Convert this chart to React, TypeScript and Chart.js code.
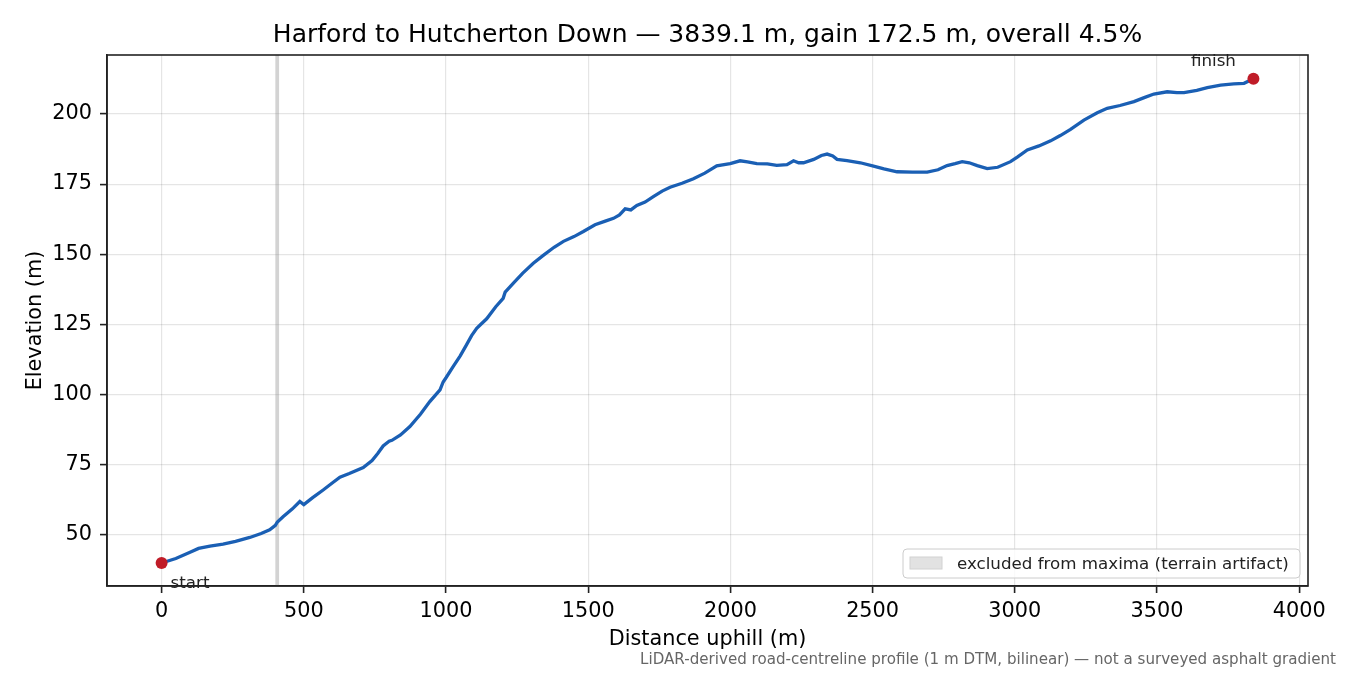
import React, { useEffect, useRef } from 'react';
import { Chart, registerables } from 'chart.js';
Chart.register(...registerables);

// profile (distance uphill in m, elevation in m)
const distance = [
  0, 50, 100, 130, 170, 216, 260, 310, 350, 380, 400, 407, 427, 460, 486, 500, 530, 568, 600, 627,
  660, 709, 740, 760, 779, 800, 810, 840, 873, 910, 943, 979, 990, 1000, 1025, 1050, 1072, 1090, 1108, 1120,
  1143, 1175, 1201, 1208, 1237, 1270, 1307, 1342, 1380, 1413, 1450, 1483, 1524, 1560, 1589, 1610, 1630, 1650, 1671, 1700,
  1729, 1760, 1788, 1830, 1870, 1910, 1952, 1999, 2034, 2060, 2093, 2130, 2163, 2199, 2222, 2240, 2257, 2293, 2320, 2340,
  2360, 2375, 2410, 2457, 2500, 2540, 2586, 2640, 2692, 2730, 2762, 2790, 2815, 2840, 2868, 2903, 2940, 2985, 3010, 3044,
  3085, 3126, 3160, 3196, 3243, 3290, 3325, 3370, 3419, 3455, 3489, 3536, 3570, 3595, 3640, 3677, 3724, 3770, 3806, 3839.1,
];
const elevation = [
  40.0, 41.6, 43.8, 45.2, 46.0, 46.7, 47.7, 49.1, 50.5, 51.8, 53.4, 54.6, 56.5, 59.3, 61.9, 60.8, 63.2, 66.0, 68.5, 70.6,
  71.9, 74.0, 76.5, 79.0, 81.7, 83.4, 83.7, 85.6, 88.6, 93.0, 97.5, 101.7, 104.5, 106.0, 110.0, 113.8, 117.7, 121.0, 123.6, 124.8,
  127.0, 131.3, 134.3, 136.5, 139.7, 143.3, 146.8, 149.6, 152.5, 154.6, 156.3, 158.1, 160.5, 161.8, 162.8, 164.0, 166.2, 165.8, 167.4, 168.6,
  170.5, 172.5, 173.9, 175.3, 176.9, 178.9, 181.5, 182.3, 183.3, 182.9, 182.3, 182.2, 181.7, 181.9, 183.3, 182.6, 182.6, 183.8, 185.2, 185.7,
  185.0, 183.8, 183.4, 182.6, 181.5, 180.4, 179.4, 179.3, 179.3, 180.1, 181.6, 182.3, 183.0, 182.6, 181.6, 180.5, 181.0, 183.0, 184.7, 187.2,
  188.6, 190.4, 192.3, 194.5, 197.8, 200.4, 202.0, 203.0, 204.4, 205.8, 207.1, 207.9, 207.6, 207.6, 208.4, 209.4, 210.3, 210.7, 210.9, 212.5,
];

const endpointLabels = ['start', 'finish'];
const excludedSpan = [400, 413];
const xTicks = [0, 500, 1000, 1500, 2000, 2500, 3000, 3500, 4000];
const yTicks = [50, 75, 100, 125, 150, 175, 200];

const title = 'Harford to Hutcherton Down — 3839.1 m, gain 172.5 m, overall 4.5%';
const xLabel = 'Distance uphill (m)';
const yLabel = 'Elevation (m)';
const legendLabel = 'excluded from maxima (terrain artifact)';
const footnote = 'LiDAR-derived road-centreline profile (1 m DTM, bilinear) — not a surveyed asphalt gradient';

const FONT = '"DejaVu Sans", sans-serif';
const INK = '#222222';

const decorations = {
  id: 'decorations',
  beforeDatasetsDraw(chart: any) {
    const { ctx, chartArea, scales } = chart;
    const x0 = scales.x.getPixelForValue(excludedSpan[0]);
    const x1 = scales.x.getPixelForValue(excludedSpan[1]);
    ctx.save();
    ctx.fillStyle = 'rgba(128,128,128,0.35)';
    ctx.fillRect(x0, chartArea.top, x1 - x0, chartArea.bottom - chartArea.top);
    ctx.restore();
  },
  afterDraw(chart: any) {
    const { ctx, chartArea, scales } = chart;
    const { left, right, top, bottom } = chartArea;
    ctx.save();

    // frame (all four spines)
    ctx.strokeStyle = INK;
    ctx.lineWidth = 1.6;
    ctx.strokeRect(left, top, right - left, bottom - top);

    // start / finish annotations
    ctx.fillStyle = INK;
    ctx.font = `16.7px ${FONT}`;
    ctx.textBaseline = 'alphabetic';
    ctx.textAlign = 'left';
    ctx.fillText(endpointLabels[0], scales.x.getPixelForValue(distance[0]) + 9, scales.y.getPixelForValue(elevation[0]) + 25);
    ctx.textAlign = 'center';
    const last = distance.length - 1;
    ctx.fillText(endpointLabels[1], scales.x.getPixelForValue(distance[last]) - 40, scales.y.getPixelForValue(elevation[last]) - 13);

    // title
    ctx.font = `25px ${FONT}`;
    ctx.textAlign = 'center';
    ctx.fillStyle = '#000';
    ctx.fillText(title, (left + right) / 2, 41.5);

    // axis labels
    ctx.font = `20.8px ${FONT}`;
    ctx.fillText(xLabel, (left + right) / 2, 645);
    ctx.save();
    ctx.translate(41, (top + bottom) / 2);
    ctx.rotate(-Math.PI / 2);
    ctx.fillText(yLabel, 0, 0);
    ctx.restore();

    // footnote
    ctx.font = `15.1px ${FONT}`;
    ctx.fillStyle = '#666666';
    ctx.textAlign = 'right';
    ctx.fillText(footnote, 1336, 664);

    // legend
    const lx = right - 8 - 397;
    const ly = bottom - 8 - 29;
    ctx.beginPath();
    ctx.roundRect(lx, ly, 397, 29, 4);
    ctx.fillStyle = 'rgba(255,255,255,0.8)';
    ctx.fill();
    ctx.strokeStyle = '#cccccc';
    ctx.lineWidth = 1;
    ctx.stroke();
    ctx.fillStyle = '#e2e2e2';
    ctx.fillRect(lx + 7, ly + 8, 32, 12);
    ctx.strokeStyle = '#d2d2d2';
    ctx.strokeRect(lx + 7, ly + 8, 32, 12);
    ctx.fillStyle = INK;
    ctx.font = `16.7px ${FONT}`;
    ctx.textAlign = 'left';
    ctx.fillText(legendLabel, lx + 54, ly + 20);

    ctx.restore();
  },
};

const App: React.FC = () => {
  const canvasRef = useRef<HTMLCanvasElement>(null);

  useEffect(() => {
    if (!canvasRef.current) return;
    const last = distance.length - 1;
    const chart = new Chart(canvasRef.current, {
      type: 'line',
      data: {
        datasets: [
          {
            label: 'profile',
            data: distance.map((d, i) => ({ x: d, y: elevation[i] })),
            borderColor: '#1a5fb4',
            borderWidth: 3.3,
            pointRadius: 0,
            tension: 0,
            fill: false,
            order: 2,
          },
          {
            label: 'endpoints',
            data: [
              { x: distance[0], y: elevation[0] },
              { x: distance[last], y: elevation[last] },
            ],
            showLine: false,
            pointRadius: 6,
            pointBackgroundColor: '#c01c28',
            pointBorderColor: '#c01c28',
            pointBorderWidth: 0,
            order: 1,
          },
        ],
      },
      options: {
        animation: false,
        responsive: true,
        maintainAspectRatio: false,
        layout: { padding: { left: 0, top: 55, right: 42, bottom: 0 } },
        plugins: {
          legend: { display: false },
          title: { display: false },
          tooltip: { enabled: false },
        },
        scales: {
          x: {
            type: 'linear',
            min: -192,
            max: 4031,
            afterBuildTicks: (axis: any) => {
              axis.ticks = xTicks.map((v) => ({ value: v }));
            },
            afterFit: (scale: any) => {
              scale.height = 89;
              scale.paddingLeft = 0;
              scale.paddingRight = 0;
            },
            ticks: {
              color: '#000',
              font: { family: FONT, size: 20.8 },
              padding: 6,
              maxRotation: 0,
              autoSkip: false,
              callback: (v: any) => String(v),
            },
            grid: {
              color: 'rgba(0,0,0,0.1)',
              lineWidth: 1.2,
              drawTicks: true,
              tickLength: 7,
              tickColor: INK,
              tickWidth: 1.6,
            },
            border: { display: true, color: INK, width: 1.6 },
          },
          y: {
            type: 'linear',
            min: 31.8,
            max: 221.0,
            afterBuildTicks: (axis: any) => {
              axis.ticks = yTicks.map((v) => ({ value: v }));
            },
            afterFit: (scale: any) => {
              scale.width = 107;
              scale.paddingTop = 0;
              scale.paddingBottom = 0;
            },
            ticks: {
              color: '#000',
              font: { family: FONT, size: 20.8 },
              padding: 8,
              autoSkip: false,
              callback: (v: any) => String(v),
            },
            grid: {
              color: 'rgba(0,0,0,0.1)',
              lineWidth: 1.2,
              drawTicks: true,
              tickLength: 7,
              tickColor: INK,
              tickWidth: 1.6,
            },
            border: { display: true, color: INK, width: 1.6 },
          },
        },
      },
      plugins: [decorations],
    });
    return () => chart.destroy();
  }, []);

  return (
    <div style={{ position: 'absolute', left: 0, top: 0, width: 1350, height: 675, background: '#fff' }}>
      <canvas ref={canvasRef}></canvas>
    </div>
  );
};

export default App;
